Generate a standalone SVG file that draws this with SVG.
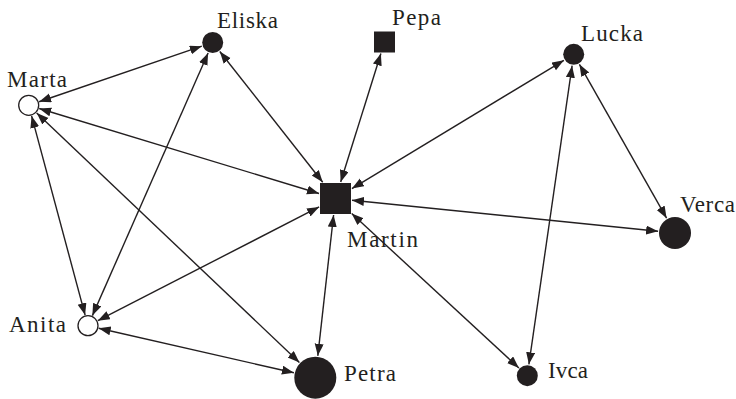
<svg xmlns="http://www.w3.org/2000/svg" width="736" height="399" viewBox="0 0 736 399">
<style>
.e{stroke:#231f20;stroke-width:1.4;fill:none;marker-start:url(#ah);marker-end:url(#ah)}
.n{fill:#231f20}
.w{fill:#fff;stroke:#231f20;stroke-width:1.3}
text{font-family:"Liberation Serif","Times New Roman",serif;font-size:23px;fill:#231f20}
</style>
<defs>
<marker id="ah" markerUnits="userSpaceOnUse" markerWidth="13" markerHeight="10" refX="12" refY="4.5" orient="auto-start-reverse">
<path d="M0,0 L12,4.5 L0,9 z" fill="#231f20"/>
</marker>
</defs>
<rect width="736" height="399" fill="#fff"/>
<g id="connectors">
<line class="e" x1="39.1" y1="101.75" x2="201.8" y2="46.2"/>
<line class="e" x1="39.2" y1="108.5" x2="319.0" y2="193.5"/>
<line class="e" x1="31.6" y1="115.9" x2="85.1" y2="315.1"/>
<line class="e" x1="36.7" y1="112.9" x2="299.4" y2="362.5"/>
<line class="e" x1="92.4" y1="315.6" x2="208.1" y2="53.0"/>
<line class="e" x1="219.8" y1="51.5" x2="322.7" y2="182.2"/>
<line class="e" x1="380.9" y1="53.5" x2="340.7" y2="182.0"/>
<line class="e" x1="351.9" y1="188.6" x2="563.9" y2="60.3"/>
<line class="e" x1="572.1" y1="65.7" x2="528.9" y2="364.3"/>
<line class="e" x1="579.4" y1="64.3" x2="666.6" y2="218.2"/>
<line class="e" x1="352.0" y1="200.2" x2="658.1" y2="231.3"/>
<line class="e" x1="351.7" y1="213.5" x2="518.9" y2="367.9"/>
<line class="e" x1="333.6" y1="215.0" x2="317.8" y2="355.8"/>
<line class="e" x1="97.8" y1="320.7" x2="319.1" y2="206.9"/>
<line class="e" x1="98.7" y1="328.2" x2="293.9" y2="372.8"/>
</g>
<g id="Marta"><circle class="w" cx="28.7" cy="105.3" r="10"/><text x="7" y="87" textLength="60">Marta</text></g>
<g id="Eliska"><circle class="n" cx="212.7" cy="42.5" r="10.5"/><text x="217" y="28" textLength="61">Eliska</text></g>
<g id="Pepa"><rect class="n" x="374" y="31.5" width="21" height="21"/><text x="392" y="25" textLength="49">Pepa</text></g>
<g id="Lucka"><circle class="n" cx="573.7" cy="54.3" r="10.5"/><text x="581" y="41" textLength="62">Lucka</text></g>
<g id="Martin"><rect class="n" x="320" y="183" width="31" height="31"/><text x="347" y="247" textLength="71">Martin</text></g>
<g id="Verca"><circle class="n" cx="675" cy="233" r="16"/><text x="680" y="212" textLength="55">Verca</text></g>
<g id="Anita"><circle class="w" cx="88" cy="325.7" r="10"/><text x="9" y="332" textLength="57">Anita</text></g>
<g id="Petra"><circle class="n" cx="315.3" cy="377.7" r="21"/><text x="344" y="381" textLength="52">Petra</text></g>
<g id="Ivca"><circle class="n" cx="527.3" cy="375.7" r="10.5"/><text x="548" y="378" textLength="40">Ivca</text></g>
</svg>
